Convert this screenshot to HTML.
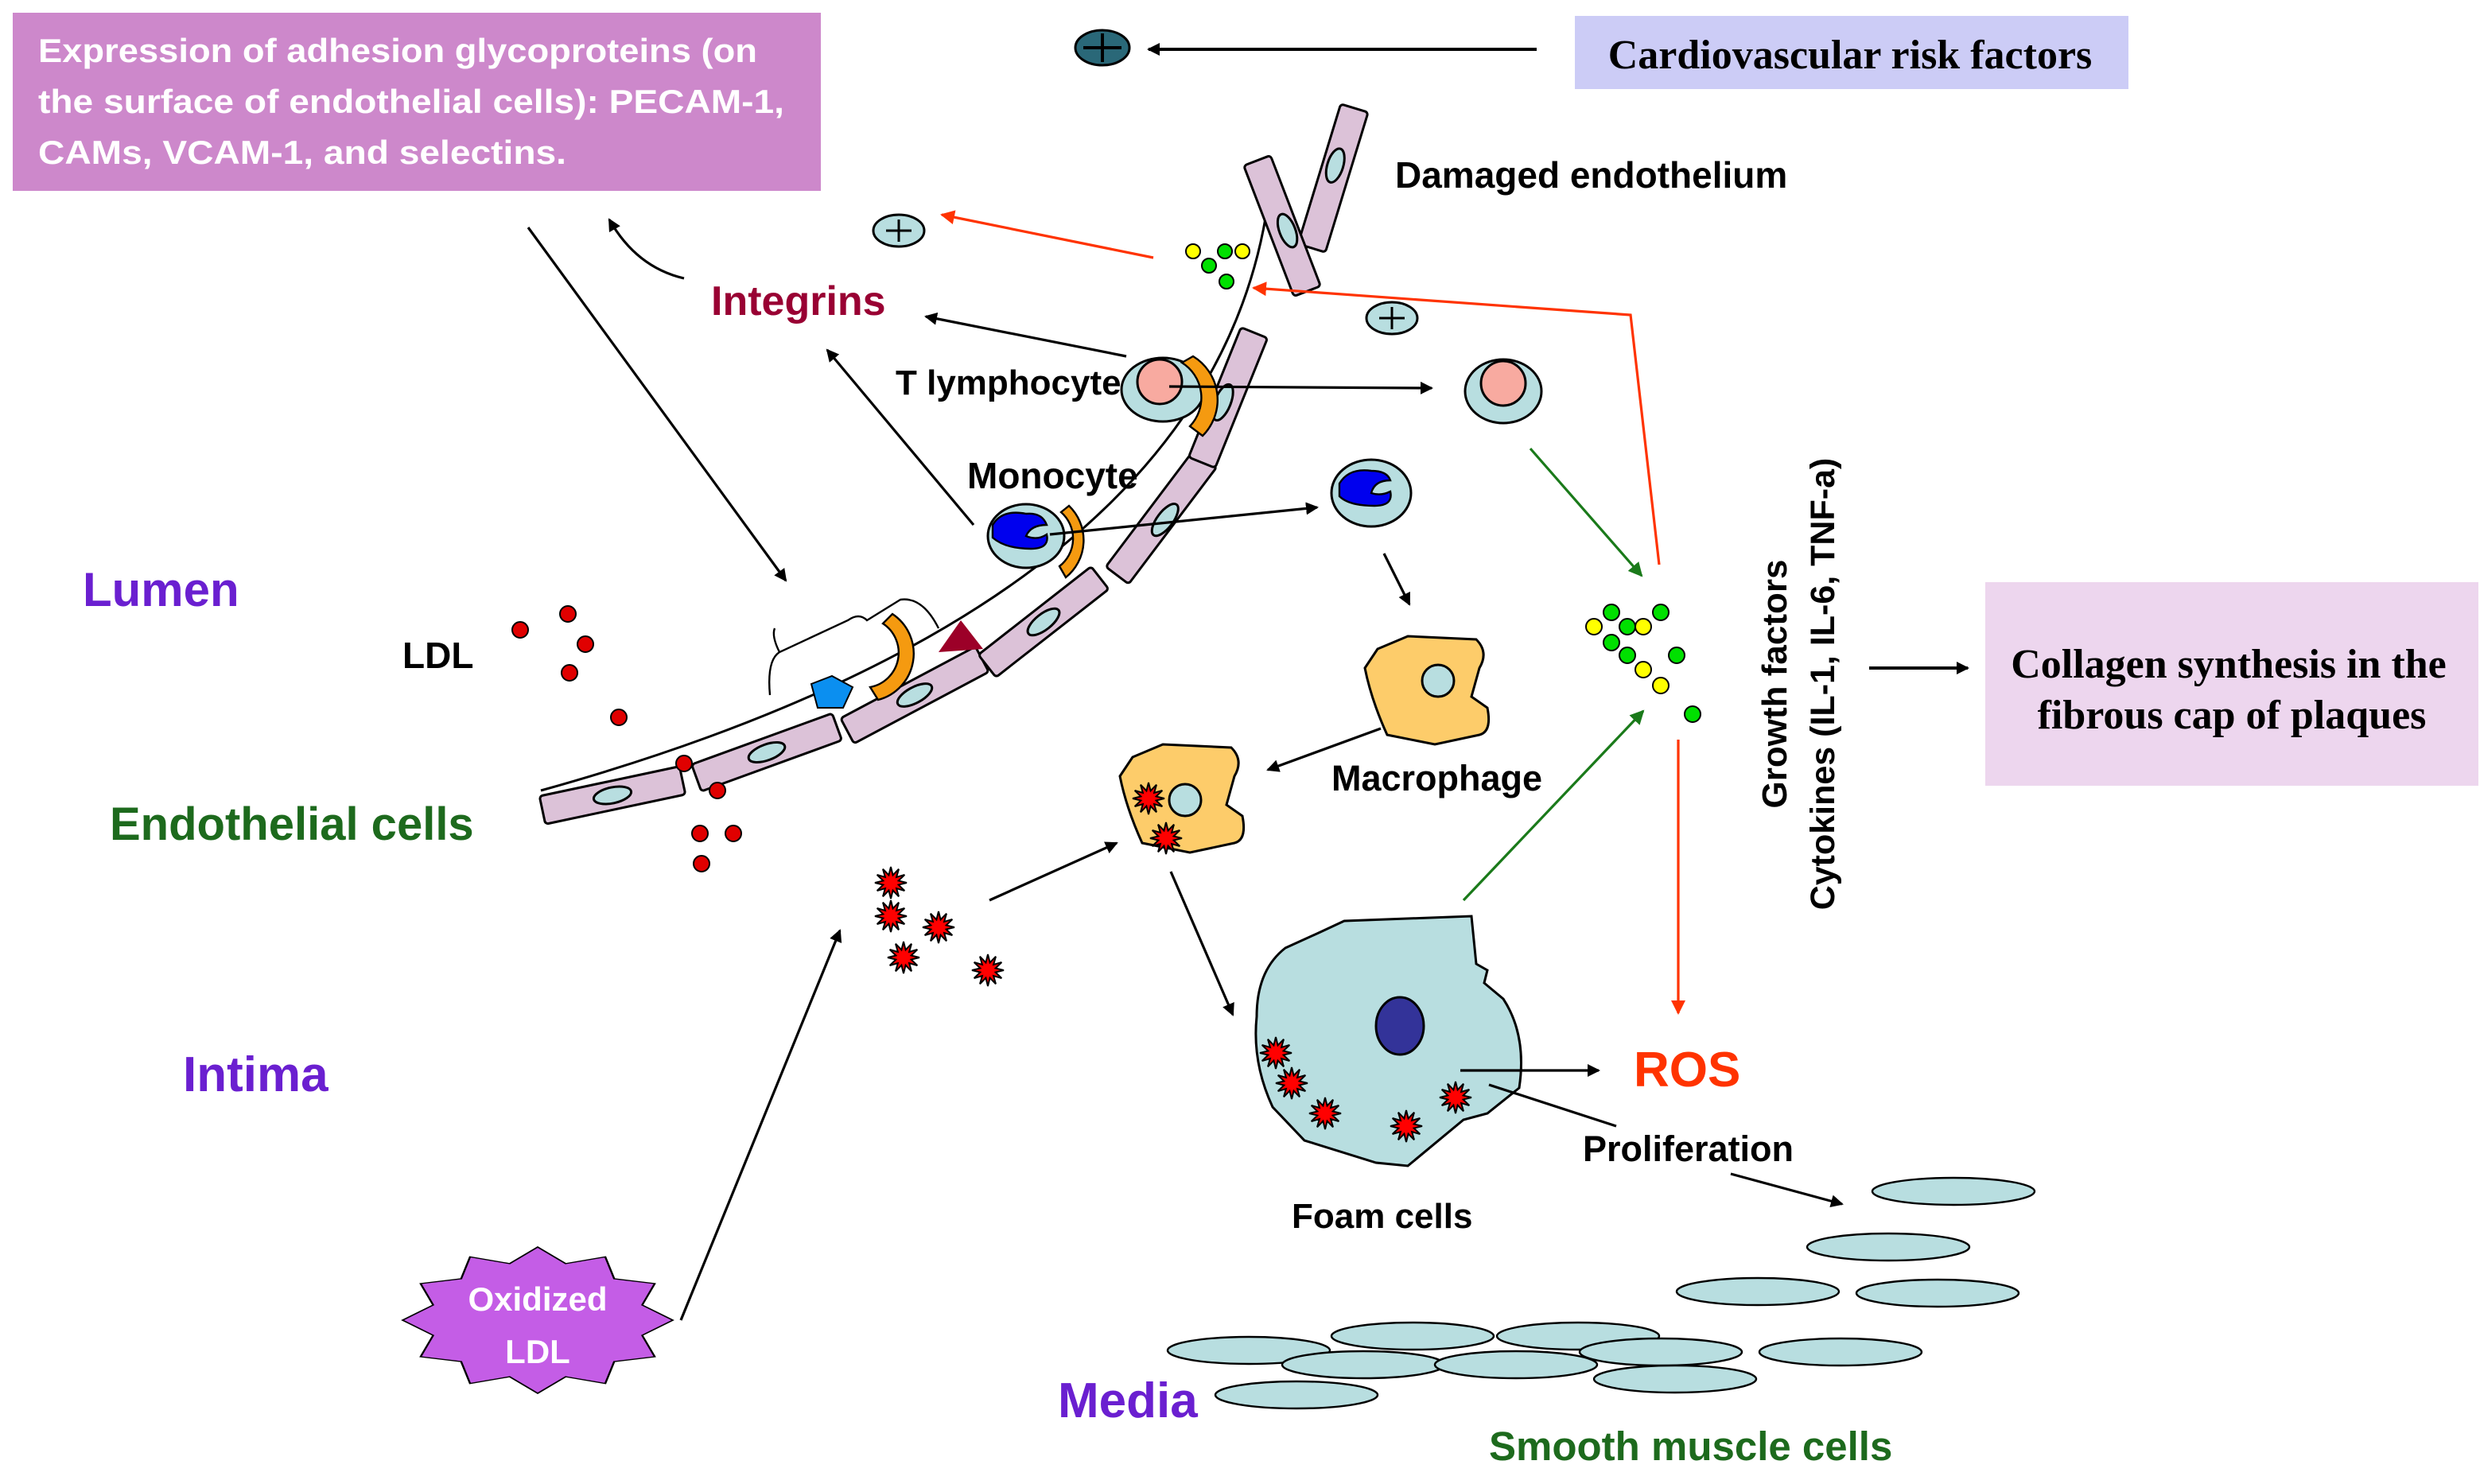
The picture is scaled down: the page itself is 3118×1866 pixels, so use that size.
<!DOCTYPE html>
<html><head><meta charset="utf-8"><style>
html,body{margin:0;padding:0;background:#fff;}
svg{display:block;}
.s{font-family:"Liberation Sans",sans-serif;font-weight:bold;}
.r{font-family:"Liberation Serif",serif;font-weight:bold;}
</style></head><body>
<svg width="3118" height="1866" viewBox="0 0 1559 933" xmlns="http://www.w3.org/2000/svg">
<defs>
<marker id="ab" markerWidth="8" markerHeight="8" refX="7" refY="4" orient="auto" markerUnits="userSpaceOnUse" viewBox="0 0 8 8"><path d="M0,0 L8,4 L0,8 Z" fill="#000"/></marker>
<marker id="ar" markerWidth="9" markerHeight="9" refX="8" refY="4.5" orient="auto" markerUnits="userSpaceOnUse" viewBox="0 0 9 9"><path d="M0,0 L9,4.5 L0,9 Z" fill="#ff3300"/></marker>
<marker id="ag" markerWidth="9" markerHeight="9" refX="8" refY="4.5" orient="auto" markerUnits="userSpaceOnUse" viewBox="0 0 9 9"><path d="M0,0 L9,4.5 L0,9 Z" fill="#1a7a1a"/></marker>
<polygon id="st" points="10,0 4.83,1.29 8.66,5 3.54,3.54 5,8.66 1.29,4.83 0,10 -1.29,4.83 -5,8.66 -3.54,3.54 -8.66,5 -4.83,1.29 -10,0 -4.83,-1.29 -8.66,-5 -3.54,-3.54 -5,-8.66 -1.29,-4.83 0,-10 1.29,-4.83 5,-8.66 3.54,-3.54 8.66,-5 4.83,-1.29" fill="#ff0000" stroke="#000" stroke-width="1"/>
<path id="mac" d="M866,408 L885,400 L928,402 Q936,410 930,420 L925,438 L935,445 Q938,460 930,462 L902,468 L872,462 Q862,440 858,420 Z" fill="#fdcc6a" stroke="#000" stroke-width="1.5"/>
</defs>

<!-- boxes -->
<rect x="8" y="8" width="508" height="112" fill="#cd88cb"/>
<text class="s" font-size="21" fill="#fff"><tspan x="24" y="39" textLength="452" lengthAdjust="spacingAndGlyphs">Expression of adhesion glycoproteins (on</tspan><tspan x="24" y="71" textLength="469" lengthAdjust="spacingAndGlyphs">the surface of endothelial cells): PECAM-1,</tspan><tspan x="24" y="103" textLength="332" lengthAdjust="spacingAndGlyphs">CAMs, VCAM-1, and selectins.</tspan></text>
<rect x="990" y="10" width="348" height="46" fill="#ccccf6"/>
<text class="r" font-size="26" x="1163" y="43" text-anchor="middle">Cardiovascular risk factors</text>
<rect x="1248" y="366" width="310" height="128" fill="#edd6ee"/>
<text class="r" font-size="26" text-anchor="middle"><tspan x="1401" y="426">Collagen synthesis in the</tspan><tspan x="1403" y="458">fibrous cap of plaques</tspan></text>

<ellipse cx="693" cy="30" rx="17" ry="11" fill="#2a6878" stroke="#000" stroke-width="1.5"/>
<path d="M681,30 H705 M693,21 V39" stroke="#000" stroke-width="2"/>
<line x1="966" y1="31" x2="722" y2="31" stroke="#000" stroke-width="2" marker-end="url(#ab)"/>
<line x1="1175" y1="420" x2="1237" y2="420" stroke="#000" stroke-width="2" marker-end="url(#ab)"/>

<text class="s" font-size="22" transform="translate(1123,430) rotate(-90)" text-anchor="middle">Growth factors</text>
<text class="s" font-size="21.5" transform="translate(1153,430) rotate(-90)" text-anchor="middle">Cytokines (IL-1, IL-6, TNF-a)</text>

<!-- labels -->
<text class="s" font-size="30" fill="#6a1fd0" x="52" y="381">Lumen</text>
<text class="s" font-size="29" fill="#1d6a1d" x="69" y="528">Endothelial cells</text>
<text class="s" font-size="31" fill="#6a1fd0" x="115" y="686">Intima</text>
<text class="s" font-size="31" fill="#6a1fd0" x="665" y="891">Media</text>
<text class="s" font-size="25.5" fill="#1d6a1d" x="936" y="918">Smooth muscle cells</text>
<text class="s" font-size="23" x="253" y="420">LDL</text>
<text class="s" font-size="26" fill="#990033" x="447" y="198">Integrins</text>
<text class="s" font-size="23" x="877" y="118">Damaged endothelium</text>
<text class="s" font-size="22" x="563" y="248">T lymphocyte</text>
<text class="s" font-size="23" x="608" y="307">Monocyte</text>
<text class="s" font-size="22.5" x="837" y="497">Macrophage</text>
<text class="s" font-size="22.5" x="995" y="730">Proliferation</text>
<text class="s" font-size="31" fill="#ff3300" x="1027" y="683">ROS</text>

<!-- endothelium curve -->
<path d="M340,497 Q760,380 797,128" fill="none" stroke="#000" stroke-width="1.5"/>
<g fill="#dcc2d8" stroke="#000" stroke-width="1.5">
<g transform="translate(385,500) rotate(-12)"><rect x="-45" y="-9" width="90" height="18" rx="2"/><ellipse cx="0" cy="0" rx="12" ry="5" fill="#b8dee0"/></g>
<g transform="translate(482,473) rotate(-20)"><rect x="-47" y="-9" width="94" height="18" rx="2"/><ellipse cx="0" cy="0" rx="12" ry="5" fill="#b8dee0"/></g>
<g transform="translate(575,437) rotate(-28)"><rect x="-48" y="-9" width="96" height="18" rx="2"/><ellipse cx="0" cy="0" rx="12" ry="5" fill="#b8dee0"/></g>
<g transform="translate(656,391) rotate(-38)"><rect x="-45" y="-9" width="90" height="18" rx="2"/><ellipse cx="0" cy="0" rx="12" ry="5" fill="#b8dee0"/></g>
<g transform="translate(730,325) rotate(-53)"><rect x="-46" y="-9" width="92" height="18" rx="2"/><ellipse cx="0" cy="3" rx="12" ry="5" fill="#b8dee0"/></g>
<g transform="translate(772,250) rotate(-68)"><rect x="-44" y="-9" width="88" height="18" rx="2"/><ellipse cx="-4" cy="-2" rx="12" ry="5" fill="#b8dee0"/></g>
<g transform="translate(838,112) rotate(-73)"><rect x="-46" y="-9" width="92" height="18" rx="2"/><ellipse cx="8" cy="-1" rx="11" ry="5" fill="#b8dee0"/></g>
<g transform="translate(806,142) rotate(69)"><rect x="-44" y="-9" width="88" height="18" rx="2"/><ellipse cx="4" cy="-2" rx="11" ry="5" fill="#b8dee0"/></g>
</g>

<!-- LDL dots -->
<g fill="#e00000" stroke="#000" stroke-width="1">
<circle cx="327" cy="396" r="5"/><circle cx="357" cy="386" r="5"/><circle cx="368" cy="405" r="5"/><circle cx="358" cy="423" r="5"/><circle cx="389" cy="451" r="5"/><circle cx="430" cy="480" r="5"/><circle cx="451" cy="497" r="5"/><circle cx="440" cy="524" r="5"/><circle cx="461" cy="524" r="5"/><circle cx="441" cy="543" r="5"/>
</g>

<!-- brace, receptors -->
<path d="M484,437 Q482,415 490,410 L533,390 Q540,385 545,390 L566,377 Q580,375 590,395" fill="none" stroke="#000" stroke-width="1.2"/>
<path d="M490,410 Q485,400 487,395" fill="none" stroke="#000" stroke-width="1.2"/>
<path d="M547,432 A22,22 0 0 0 555,392 L561,386 A30,30 0 0 1 552,440 Z" fill="#f59a10" stroke="#000" stroke-width="1.2"/>
<polygon points="510,430 523,425 536,432 530,445 514,445" fill="#0b8ff0" stroke="#000" stroke-width="1"/>
<polygon points="604,390 618,408 590,410" fill="#9c0028"/>

<!-- T lymphocytes -->
<ellipse cx="731" cy="245" rx="26" ry="20" fill="#b8dee0" stroke="#000" stroke-width="1.5"/>
<circle cx="729" cy="240" r="14" fill="#f8aaa0" stroke="#000" stroke-width="1.5"/>
<path d="M743,228 A26,26 0 0 1 748,268 L756,274 A32,32 0 0 0 750,224 Z" fill="#f59a10" stroke="#000" stroke-width="1.2"/>
<ellipse cx="945" cy="246" rx="24" ry="20" fill="#b8dee0" stroke="#000" stroke-width="1.5"/>
<circle cx="945" cy="241" r="14" fill="#f8aaa0" stroke="#000" stroke-width="1.5"/>
<!-- monocytes -->
<ellipse cx="645" cy="337" rx="24" ry="20" fill="#b8dee0" stroke="#000" stroke-width="1.5"/>
<path d="M624,330 Q630,320 645,323 Q655,322 658,330 Q648,330 645,337 Q652,340 658,336 Q660,345 648,345 Q632,345 624,338 Z" fill="#0000ee" stroke="#000" stroke-width="1.2"/>
<path d="M667,322 A22,22 0 0 1 666,356 L670,363 A30,30 0 0 0 672,318 Z" fill="#f59a10" stroke="#000" stroke-width="1.2"/>
<ellipse cx="862" cy="310" rx="25" ry="21" fill="#b8dee0" stroke="#000" stroke-width="1.5"/>
<path d="M842,304 Q848,294 862,296 Q872,296 874,302 Q864,302 862,310 Q868,312 874,309 Q876,318 864,318 Q848,318 842,312 Z" fill="#0000ee" stroke="#000" stroke-width="1.2"/>

<!-- plus ellipses -->
<g stroke="#000" stroke-width="1.5"><ellipse cx="565" cy="145" rx="16" ry="10" fill="#b8dee0"/><path d="M557,145 H573 M565,138 V152"/>
<ellipse cx="875" cy="200" rx="16" ry="10" fill="#b8dee0"/><path d="M867,200 H883 M875,193 V207"/></g>

<!-- small dots -->
<g stroke="#000" stroke-width="1">
<circle cx="750" cy="158" r="4.5" fill="#ffff00"/><circle cx="781" cy="158" r="4.5" fill="#ffff00"/><circle cx="770" cy="158" r="4.5" fill="#00e000"/><circle cx="760" cy="167" r="4.5" fill="#00e000"/><circle cx="771" cy="177" r="4.5" fill="#00e000"/>
<circle cx="1013" cy="385" r="5" fill="#00e000"/><circle cx="1044" cy="385" r="5" fill="#00e000"/><circle cx="1002" cy="394" r="5" fill="#ffff00"/><circle cx="1023" cy="394" r="5" fill="#00e000"/><circle cx="1033" cy="394" r="5" fill="#ffff00"/><circle cx="1013" cy="404" r="5" fill="#00e000"/><circle cx="1023" cy="412" r="5" fill="#00e000"/><circle cx="1054" cy="412" r="5" fill="#00e000"/><circle cx="1033" cy="421" r="5" fill="#ffff00"/><circle cx="1044" cy="431" r="5" fill="#ffff00"/><circle cx="1064" cy="449" r="5" fill="#00e000"/>
</g>

<!-- macrophages -->
<use href="#mac"/>
<circle cx="904" cy="428" r="10" fill="#b8dee0" stroke="#000" stroke-width="1.5"/>
<use href="#mac" transform="translate(-154,68)"/>
<circle cx="745" cy="503" r="10" fill="#b8dee0" stroke="#000" stroke-width="1.5"/>
<use href="#st" transform="translate(722,502)"/>
<use href="#st" transform="translate(733,527)"/>

<!-- foam cell -->
<path d="M808,596 L830,586 L845,579 L925,576 L928,606 L935,610 L933,618 L945,628 Q960,651 955,684 L935,700 L920,704 L885,733 L865,731 L820,717 L800,696 Q787,668 790,639 Q790,610 808,596 Z" fill="#b8dee0" stroke="#000" stroke-width="1.5"/>
<ellipse cx="880" cy="645" rx="15" ry="18" fill="#333399" stroke="#000" stroke-width="1.5"/>
<use href="#st" transform="translate(802,662)"/>
<use href="#st" transform="translate(812,681)"/>
<use href="#st" transform="translate(833,700)"/>
<use href="#st" transform="translate(884,708)"/>
<use href="#st" transform="translate(915,690)"/>
<text class="s" font-size="22" x="812" y="772">Foam cells</text>
<!-- oxLDL stars -->
<use href="#st" transform="translate(560,555)"/>
<use href="#st" transform="translate(560,576)"/>
<use href="#st" transform="translate(590,583)"/>
<use href="#st" transform="translate(568,602)"/>
<use href="#st" transform="translate(621,610)"/>

<!-- Oxidized LDL -->
<polygon transform="translate(338,830) scale(8.5,4.6)" points="10,0 7.73,2.07 8.66,5 5.66,5.66 5,8.66 2.07,7.73 0,10 -2.07,7.73 -5,8.66 -5.66,5.66 -8.66,5 -7.73,2.07 -10,0 -7.73,-2.07 -8.66,-5 -5.66,-5.66 -5,-8.66 -2.07,-7.73 0,-10 2.07,-7.73 5,-8.66 5.66,-5.66 8.66,-5 7.73,-2.07" fill="#c45de6" stroke="#000" stroke-width="0.15"/>
<text class="s" font-size="21" fill="#fff" text-anchor="middle"><tspan x="338" y="824">Oxidized</tspan><tspan x="338" y="857">LDL</tspan></text>

<!-- smooth muscle cells -->
<g fill="#b8dee0" stroke="#000" stroke-width="1.2">
<ellipse cx="1228" cy="749" rx="51" ry="8.5"/><ellipse cx="1187" cy="784" rx="51" ry="8.5"/><ellipse cx="1105" cy="812" rx="51" ry="8.5"/><ellipse cx="1218" cy="813" rx="51" ry="8.5"/>
<ellipse cx="785" cy="849" rx="51" ry="8.5"/><ellipse cx="888" cy="840" rx="51" ry="8.5"/><ellipse cx="992" cy="840" rx="51" ry="8.5"/><ellipse cx="1157" cy="850" rx="51" ry="8.5"/>
<ellipse cx="857" cy="858" rx="51" ry="8.5"/><ellipse cx="953" cy="858" rx="51" ry="8.5"/><ellipse cx="1044" cy="850" rx="51" ry="8.5"/><ellipse cx="1053" cy="867" rx="51" ry="8.5"/><ellipse cx="815" cy="877" rx="51" ry="8.5"/>
</g>

<!-- black arrows -->
<g stroke="#000" stroke-width="1.6" fill="none" marker-end="url(#ab)">
<line x1="332" y1="143" x2="494" y2="365"/>
<path d="M430,175 Q400,168 383,138"/>
<line x1="708" y1="224" x2="582" y2="199"/>
<line x1="612" y1="330" x2="520" y2="220"/>
<line x1="735" y1="243" x2="900" y2="244"/>
<line x1="660" y1="336" x2="828" y2="319"/>
<line x1="870" y1="348" x2="886" y2="380"/>
<line x1="868" y1="458" x2="797" y2="484"/>
<line x1="622" y1="566" x2="702" y2="530"/>
<line x1="736" y1="548" x2="775" y2="638"/>
<line x1="428" y1="830" x2="528" y2="585"/>
<line x1="918" y1="673" x2="1005" y2="673"/>
<line x1="1088" y1="738" x2="1158" y2="757"/>
</g>
<line x1="936" y1="682" x2="1016" y2="708" stroke="#000" stroke-width="1.6"/>

<!-- red arrows -->
<g stroke="#ff3300" stroke-width="1.6" fill="none" marker-end="url(#ar)">
<line x1="725" y1="162" x2="592" y2="135"/>
<polyline points="1043,355 1025,198 788,181"/>
<line x1="1055" y1="465" x2="1055" y2="637"/>
</g>
<!-- green arrows -->
<g stroke="#1a7a1a" stroke-width="1.6" fill="none" marker-end="url(#ag)">
<line x1="962" y1="282" x2="1032" y2="362"/>
<line x1="920" y1="566" x2="1033" y2="447"/>
</g>
</svg>
</body></html>
